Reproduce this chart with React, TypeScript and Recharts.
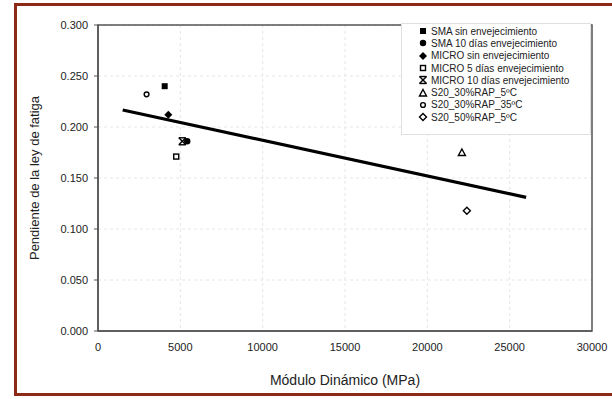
import React from 'react';
import {
  ScatterChart,
  Scatter,
  XAxis,
  YAxis,
  CartesianGrid,
  ReferenceArea,
} from 'recharts';

// series
const seriesNames = [
  'SMA sin envejecimiento',
  'SMA 10 días envejecimiento',
  'MICRO sin envejecimiento',
  'MICRO 5 días envejecimiento',
  'MICRO 10 días envejecimiento',
  'S20_30%RAP_5ºC',
  'S20_30%RAP_35ºC',
  'S20_50%RAP_5ºC',
];
const markerKinds = [
  'squareFilled',
  'circleFilled',
  'diamondFilled',
  'squareOpen',
  'star',
  'triangleOpen',
  'circleOpen',
  'diamondOpen',
];
const moduloX = [4050, 5420, 4270, 4750, 5120, 22100, 2950, 22400];
const pendienteY = [0.24, 0.186, 0.212, 0.171, 0.186, 0.175, 0.232, 0.118];

// linear trend line (two ends)
const trendX = [1500, 26000];
const trendY = [0.2167, 0.131];

const xTicks = [0, 5000, 10000, 15000, 20000, 25000, 30000];
const yTicks = [0, 0.05, 0.1, 0.15, 0.2, 0.25, 0.3];

const FONT = '"Liberation Sans", Arial, sans-serif';
const AXIS = '#555';
const FRAME = '#8c2a17';

const points = seriesNames.map((name, i) => ({
  name,
  kind: markerKinds[i],
  data: [{ x: moduloX[i], y: pendienteY[i] }],
}));
const trendData = trendX.map((x, i) => ({ x, y: trendY[i] }));

const Marker = ({ kind, cx, cy }: { kind: string; cx: number; cy: number }) => {
  const open = { fill: '#fff', stroke: '#000', strokeWidth: 1.4 };
  switch (kind) {
    case 'squareFilled':
      return <rect x={cx - 3} y={cy - 3} width={6} height={6} fill="#000" />;
    case 'circleFilled':
      return <circle cx={cx} cy={cy} r={3.2} fill="#000" />;
    case 'diamondFilled':
      return (
        <polygon
          points={`${cx},${cy - 4} ${cx + 4},${cy} ${cx},${cy + 4} ${cx - 4},${cy}`}
          fill="#000"
        />
      );
    case 'squareOpen':
      return <rect x={cx - 2.5} y={cy - 2.5} width={5} height={5} {...open} />;
    case 'star':
      return (
        <g stroke="#000" strokeWidth={1.4}>
          <line x1={cx - 3.5} y1={cy - 3.5} x2={cx + 3.5} y2={cy + 3.5} />
          <line x1={cx - 3.5} y1={cy + 3.5} x2={cx + 3.5} y2={cy - 3.5} />
          <line x1={cx - 3.5} y1={cy - 3.5} x2={cx + 3.5} y2={cy - 3.5} />
          <line x1={cx - 3.5} y1={cy + 3.5} x2={cx + 3.5} y2={cy + 3.5} />
        </g>
      );
    case 'triangleOpen':
      return (
        <polygon
          points={`${cx},${cy - 3.5} ${cx + 3.5},${cy + 3} ${cx - 3.5},${cy + 3}`}
          {...open}
        />
      );
    case 'circleOpen':
      return <circle cx={cx} cy={cy} r={2.4} {...open} />;
    case 'diamondOpen':
      return (
        <polygon
          points={`${cx},${cy - 3.5} ${cx + 3.5},${cy} ${cx},${cy + 3.5} ${cx - 3.5},${cy}`}
          {...open}
        />
      );
    default:
      return <g />;
  }
};

const bar = (left: number, top: number, width: number, height: number): React.CSSProperties => ({
  position: 'absolute',
  left,
  top,
  width,
  height,
  background: FRAME,
});

const App: React.FC = () => {
  return (
    <div
      style={{
        position: 'fixed',
        left: 0,
        top: 0,
        width: 612,
        height: 399,
        overflow: 'hidden',
        background: '#fff',
        fontFamily: FONT,
      }}
    >
      {/* dark red frame: left, top and bottom only */}
      <div style={bar(14, 3, 3, 393)} />
      <div style={bar(14, 3, 598, 3)} />
      <div style={bar(14, 393, 598, 3)} />
      <div style={{ position: 'absolute', left: 0, top: 0 }}>
        <ScatterChart
          width={612}
          height={399}
          margin={{ top: 25, right: 20, bottom: 13, left: 38 }}
          style={{ fontFamily: FONT }}
        >
          <CartesianGrid stroke="#e6e6e6" strokeDasharray="3 3" />
          <XAxis
            type="number"
            dataKey="x"
            domain={[0, 30000]}
            ticks={xTicks}
            tickSize={0}
            tickMargin={12}
            height={55}
            axisLine={{ stroke: AXIS, strokeWidth: 1.5 }}
            tick={{ fill: '#222', fontSize: 11 }}
            label={{
              value: 'Módulo Dinámico (MPa)',
              position: 'insideBottom',
              offset: 1,
              fontSize: 14,
              fill: '#222',
            }}
          />
          <YAxis
            type="number"
            dataKey="y"
            domain={[0, 0.3]}
            ticks={yTicks}
            tickFormatter={(v: number) => v.toFixed(3)}
            width={60}
            tickSize={4}
            tickMargin={6}
            axisLine={{ stroke: AXIS, strokeWidth: 1.5 }}
            tickLine={{ stroke: AXIS }}
            tick={{ fill: '#222', fontSize: 11 }}
            label={{
              value: 'Pendiente de la ley de fatiga',
              content: (props: any) => {
                const vb = props.viewBox;
                const x = vb.x - 4;
                const y = vb.y + vb.height / 2;
                return (
                  <text
                    x={x}
                    y={y}
                    transform={`rotate(-90 ${x} ${y})`}
                    textAnchor="middle"
                    dominantBaseline="central"
                    fontSize={13}
                    fill="#222"
                    fontFamily={FONT}
                  >
                    Pendiente de la ley de fatiga
                  </text>
                );
              },
            }}
          />
          <ReferenceArea
            x1={0}
            x2={30000}
            y1={0}
            y2={0.3}
            fill="none"
            stroke={AXIS}
            strokeWidth={1.5}
          />
          <Scatter
            data={trendData}
            line={{ stroke: '#000', strokeWidth: 3.2 }}
            shape={() => <g />}
            isAnimationActive={false}
          />
          {points.map((p) => (
            <Scatter
              key={p.name}
              name={p.name}
              data={p.data}
              isAnimationActive={false}
              shape={(props: any) => <Marker kind={p.kind} cx={props.cx} cy={props.cy} />}
            />
          ))}
        </ScatterChart>
      </div>
      {/* legend box laid over the top right of the plot */}
      <div
        style={{
          position: 'absolute',
          left: 401,
          top: 23,
          width: 190,
          height: 112,
          boxSizing: 'border-box',
          background: '#fff',
          border: '1px solid #e0e0e0',
          paddingTop: 1,
          paddingLeft: 16,
        }}
      >
        {points.map((p) => (
          <div
            key={p.name}
            style={{
              display: 'flex',
              alignItems: 'center',
              height: 12.3,
              fontSize: 10,
              color: '#222',
              whiteSpace: 'nowrap',
            }}
          >
            <svg width={10} height={10} style={{ marginRight: 3 }}>
              <Marker kind={p.kind} cx={5} cy={5} />
            </svg>
            {p.name}
          </div>
        ))}
      </div>
    </div>
  );
};

export default App;
